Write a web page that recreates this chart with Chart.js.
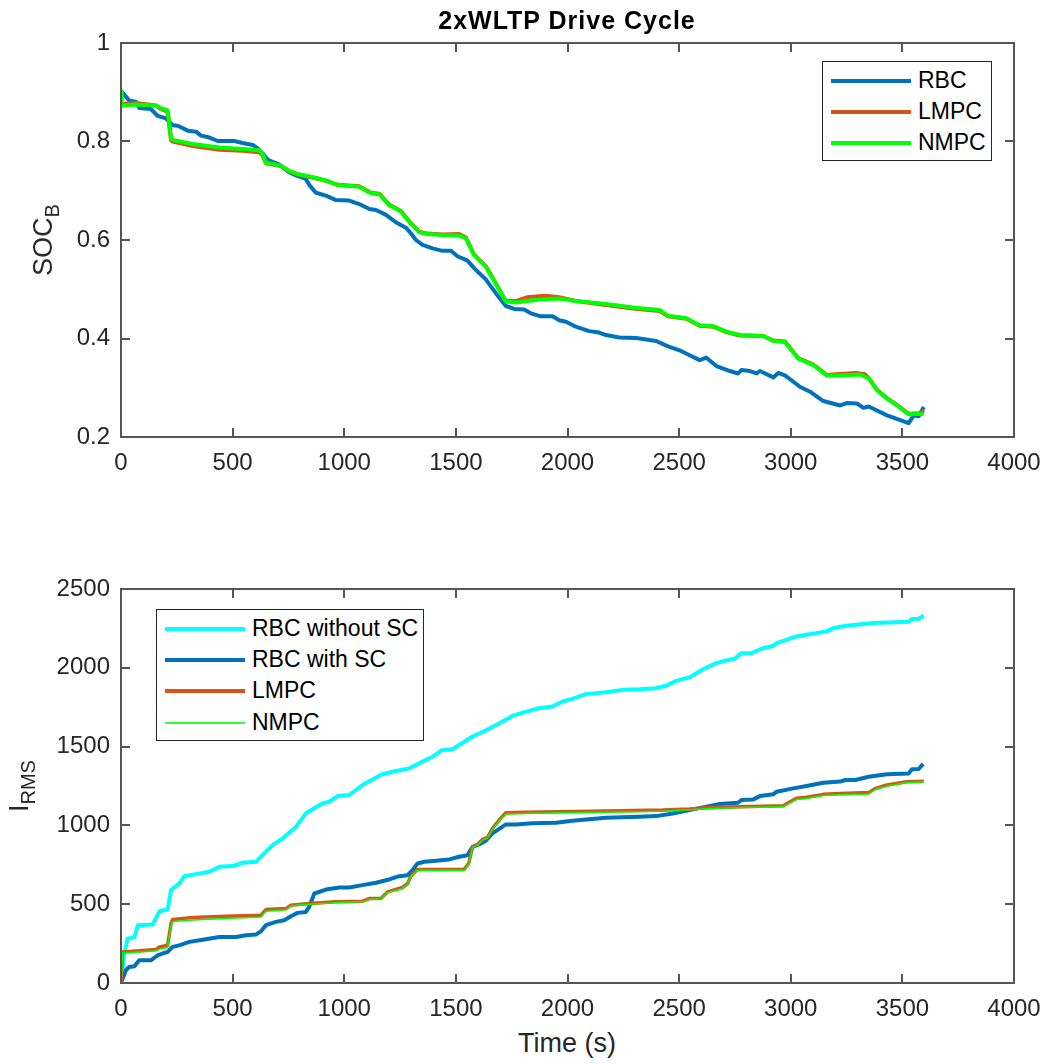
<!DOCTYPE html>
<html>
<head>
<meta charset="utf-8">
<title>2xWLTP Drive Cycle</title>
<script src="https://cdn.jsdelivr.net/npm/chart.js@4.4.1/dist/chart.umd.min.js"></script>
<style>
  body { margin: 0; background: #fff; font-family: "Liberation Sans", Arial, Helvetica, sans-serif; color: #262626; }
  #page { position: relative; width: 1047px; height: 1064px; overflow: hidden; background: #fff; }
  .box { position: absolute; left: 0; width: 1047px; height: 480px; }
  #title { position: absolute; left: 567px; top: 8px; transform: translateX(-50%); font-weight: bold; font-size: 25px; line-height: 24px; letter-spacing: 1px; white-space: nowrap; color: #000; }
  .ylabel { position: absolute; font-size: 27px; line-height: 30px; white-space: nowrap; transform: translate(-50%, -50%) rotate(-90deg); }
  .ylabel sub { font-size: 20px; line-height: 0; vertical-align: -7px; }
  #xlabel { position: absolute; left: 567px; top: 1028px; transform: translateX(-50%); font-size: 27px; line-height: 30px; white-space: nowrap; }
  .legend { position: absolute; border: 1px solid #262626; background: #fff; box-sizing: border-box; }
  .legend .row { position: absolute; left: 0; height: 31px; line-height: 31px; font-size: 23px; white-space: nowrap; color: #000; }
  .legend .mark { position: absolute; left: 8px; width: 80px; }
  .legend .txt { position: absolute; left: 95px; top: 0; }
</style>
</head>
<body>
<div id="page">
  <div class="box" style="top:0"><canvas id="socChart" width="1047" height="480"></canvas></div>
  <div class="box" style="top:540px"><canvas id="irmsChart" width="1047" height="480"></canvas></div>
  <div id="title">2xWLTP Drive Cycle</div>
  <div class="ylabel" style="left:43px; top:240px">SOC<sub>B</sub></div>
  <div class="ylabel" style="left:19px; top:786px">I<sub>RMS</sub></div>
  <div id="xlabel">Time (s)</div>
  <div class="legend" id="socLegend" style="left:822px; top:61px; width:170px; height:100px"></div>
  <div class="legend" id="irmsLegend" style="left:156px; top:609px; width:268px; height:132px"></div>
</div>

<script>
// Battery state of charge, [time s, SOC]
const rbcSoc = [[0,0.902],[10,0.898],[37,0.883],[67,0.881],[82,0.868],[134,0.866],[164,0.852],[201,0.847],[231,0.833],[254,0.832],[299,0.822],[336,0.820],[358,0.812],[396,0.808],[433,0.801],[507,0.801],[545,0.797],[590,0.793],[612,0.786],[634,0.776],[657,0.763],[709,0.753],[754,0.737],[784,0.731],[828,0.724],[843,0.712],[873,0.696],[918,0.690],[963,0.681],[1022,0.680],[1067,0.673],[1112,0.663],[1142,0.661],[1187,0.651],[1231,0.636],[1276,0.625],[1298,0.614],[1321,0.600],[1351,0.590],[1396,0.583],[1440,0.578],[1478,0.578],[1507,0.567],[1552,0.558],[1590,0.539],[1634,0.520],[1679,0.492],[1724,0.466],[1761,0.460],[1806,0.459],[1836,0.451],[1880,0.445],[1933,0.445],[1963,0.437],[1993,0.434],[2037,0.424],[2097,0.415],[2142,0.412],[2172,0.407],[2232,0.402],[2307,0.401],[2397,0.395],[2450,0.384],[2502,0.376],[2547,0.366],[2592,0.356],[2622,0.361],[2667,0.344],[2727,0.334],[2764,0.329],[2779,0.336],[2817,0.334],[2847,0.329],[2862,0.334],[2922,0.321],[2944,0.330],[2974,0.325],[3041,0.302],[3086,0.292],[3146,0.273],[3221,0.264],[3251,0.269],[3296,0.268],[3326,0.259],[3349,0.262],[3431,0.244],[3528,0.228],[3551,0.244],[3573,0.242],[3596,0.261]];

const lmpcSoc = [[0,0.876],[67,0.878],[157,0.873],[179,0.866],[209,0.860],[224,0.803],[231,0.800],[321,0.791],[440,0.783],[545,0.781],[619,0.778],[634,0.772],[649,0.756],[716,0.750],[754,0.739],[791,0.733],[866,0.726],[918,0.720],[970,0.712],[1067,0.709],[1119,0.696],[1157,0.694],[1201,0.672],[1254,0.659],[1291,0.638],[1336,0.617],[1373,0.613],[1440,0.611],[1515,0.612],[1545,0.605],[1582,0.570],[1634,0.547],[1724,0.476],[1769,0.476],[1820,0.484],[1900,0.487],[1963,0.484],[2037,0.476],[2172,0.468],[2292,0.461],[2412,0.456],[2450,0.445],[2532,0.440],[2592,0.426],[2652,0.424],[2712,0.413],[2772,0.406],[2877,0.405],[2922,0.396],[2974,0.394],[3034,0.360],[3101,0.347],[3161,0.326],[3221,0.328],[3290,0.330],[3330,0.328],[3349,0.320],[3386,0.296],[3431,0.279],[3476,0.265],[3528,0.247],[3580,0.248],[3596,0.254]];

const nmpcSoc = [[0,0.902],[3,0.873],[67,0.875],[157,0.873],[179,0.868],[209,0.863],[224,0.807],[231,0.803],[321,0.795],[440,0.788],[545,0.785],[619,0.782],[634,0.775],[649,0.757],[716,0.751],[754,0.740],[791,0.734],[866,0.727],[918,0.721],[970,0.712],[1067,0.708],[1119,0.695],[1157,0.693],[1201,0.671],[1254,0.658],[1291,0.637],[1336,0.616],[1373,0.612],[1440,0.610],[1515,0.609],[1545,0.603],[1582,0.569],[1634,0.546],[1724,0.475],[1769,0.473],[1873,0.479],[1963,0.481],[2037,0.476],[2172,0.470],[2292,0.463],[2412,0.458],[2450,0.446],[2532,0.441],[2592,0.427],[2652,0.425],[2712,0.414],[2772,0.407],[2877,0.405],[2922,0.395],[2974,0.393],[3034,0.359],[3101,0.346],[3161,0.325],[3221,0.325],[3311,0.327],[3349,0.319],[3386,0.295],[3431,0.278],[3476,0.264],[3528,0.246],[3596,0.247]];

// RMS battery current, [time s, I_RMS]
const rbcNoScIrms = [[0,0],[4,0],[15,186],[30,282],[60,288],[75,367],[142,371],[172,455],[209,466],[224,589],[261,631],[284,678],[336,691],[396,706],[440,737],[500,742],[545,763],[604,769],[634,811],[679,875],[724,917],[784,991],[828,1076],[858,1102],[903,1140],[933,1150],[970,1186],[1022,1193],[1082,1256],[1172,1326],[1231,1345],[1291,1362],[1351,1405],[1396,1436],[1440,1479],[1485,1483],[1575,1564],[1634,1602],[1709,1659],[1754,1695],[1799,1716],[1873,1744],[1933,1754],[1978,1786],[2022,1803],[2082,1833],[2172,1845],[2247,1860],[2322,1864],[2397,1871],[2442,1886],[2487,1917],[2547,1939],[2607,1991],[2667,2030],[2712,2047],[2749,2057],[2779,2093],[2824,2093],[2869,2121],[2922,2140],[2937,2157],[3026,2199],[3071,2210],[3161,2231],[3191,2252],[3251,2267],[3371,2284],[3528,2292],[3543,2309],[3573,2311],[3596,2330]];

const rbcScIrms = [[0,0],[22,81],[37,102],[60,106],[82,144],[134,144],[164,176],[194,191],[209,197],[231,229],[261,239],[306,261],[366,275],[440,292],[515,292],[560,303],[604,307],[627,328],[649,367],[694,388],[731,398],[761,424],[791,445],[828,451],[843,483],[866,568],[918,593],[978,606],[1022,606],[1082,621],[1142,636],[1201,657],[1246,678],[1284,684],[1306,716],[1328,758],[1358,769],[1410,775],[1470,784],[1515,801],[1552,811],[1575,864],[1604,879],[1634,903],[1664,949],[1724,1006],[1769,1006],[1843,1013],[1948,1017],[2022,1030],[2172,1049],[2322,1055],[2397,1059],[2472,1076],[2547,1097],[2622,1119],[2682,1136],[2764,1144],[2779,1161],[2832,1165],[2862,1186],[2922,1197],[2937,1214],[3011,1235],[3071,1250],[3146,1271],[3221,1278],[3244,1288],[3289,1288],[3349,1309],[3431,1324],[3528,1330],[3543,1356],[3573,1358],[3593,1390]];

const lmpcIrms = [[0,0],[7,197],[67,203],[157,212],[172,229],[209,239],[224,377],[231,403],[321,415],[470,424],[627,430],[649,466],[739,472],[761,494],[843,504],[963,515],[1082,519],[1112,536],[1164,536],[1194,578],[1261,606],[1284,631],[1298,678],[1328,720],[1440,720],[1537,720],[1557,758],[1575,864],[1597,879],[1619,911],[1642,924],[1664,981],[1694,1034],[1724,1080],[1813,1083],[1963,1087],[2172,1091],[2427,1097],[2547,1104],[2622,1112],[2772,1119],[2967,1125],[2989,1144],[3026,1172],[3071,1178],[3146,1197],[3221,1203],[3349,1208],[3379,1235],[3431,1256],[3521,1277],[3596,1280]];

const nmpcIrms = [[0,0],[7,190],[67,195],[157,205],[172,215],[209,225],[224,370],[231,390],[321,400],[470,410],[627,418],[649,455],[739,465],[761,490],[843,500],[963,510],[1082,515],[1112,530],[1164,535],[1194,575],[1261,600],[1284,625],[1298,675],[1328,715],[1440,715],[1537,716],[1557,750],[1575,860],[1597,875],[1619,905],[1642,920],[1664,975],[1694,1030],[1724,1072],[1813,1075],[1963,1080],[2172,1084],[2427,1090],[2547,1100],[2622,1106],[2772,1113],[2967,1118],[2989,1137],[3026,1165],[3071,1170],[3146,1190],[3221,1195],[3349,1200],[3379,1228],[3431,1250],[3521,1272],[3596,1276]];

// axis ranges
const timeTicks = { min: 0, max: 4000, step: 500 };
const socTicks = { min: 0.2, max: 1, step: 0.2 };
const irmsTicks = { min: 0, max: 2500, step: 500 };

const BLUE = '#0072BD', ORANGE = '#D95319', GREEN = '#00FF00', CYAN = '#00FFFF';
const AXIS = '#555555', TEXT = '#262626';
const FONT = '"Liberation Sans", Arial, Helvetica, sans-serif';

// box around the axes with inward tick marks on all four sides
const boxTicks = {
    id: 'boxTicks',
    afterDraw(chart) {
        const { ctx, chartArea: a, scales: { x, y } } = chart;
        const len = 9;
        ctx.save();
        ctx.strokeStyle = AXIS;
        ctx.lineWidth = 2;
        ctx.beginPath();
        ctx.rect(a.left, a.top, a.right - a.left, a.bottom - a.top);
        x.ticks.forEach(t => {
            const px = Math.round(x.getPixelForValue(t.value));
            ctx.moveTo(px, a.bottom); ctx.lineTo(px, a.bottom - len);
            ctx.moveTo(px, a.top); ctx.lineTo(px, a.top + len);
        });
        y.ticks.forEach(t => {
            const py = Math.round(y.getPixelForValue(t.value));
            ctx.moveTo(a.left, py); ctx.lineTo(a.left + len, py);
            ctx.moveTo(a.right, py); ctx.lineTo(a.right - len, py);
        });
        ctx.stroke();
        ctx.restore();
    }
};

// first series plotted lies at the back, like the original plot order
function serie(label, points, color, width, order) {
    return {
        label: label,
        data: points.map(p => ({ x: p[0], y: p[1] })),
        borderColor: color,
        backgroundColor: color,
        borderWidth: width,
        borderJoinStyle: 'round',
        pointRadius: 0,
        tension: 0,
        fill: false,
        order: order
    };
}

function criaGrafico(canvasId, datasets, yRange, yFmt, padTop, xHeight) {
    const tickFont = { family: FONT, size: 24 };
    return new Chart(document.getElementById(canvasId), {
        type: 'line',
        data: { datasets: datasets },
        options: {
            responsive: false,
            animation: false,
            events: [],
            layout: { padding: { top: padTop, right: 33, left: 0, bottom: 0 } },
            plugins: { legend: { display: false }, tooltip: { enabled: false } },
            scales: {
                x: {
                    type: 'linear',
                    min: timeTicks.min, max: timeTicks.max,
                    ticks: { stepSize: timeTicks.step, color: TEXT, font: tickFont, padding: 12, maxRotation: 0, autoSkip: false, callback: v => String(v) },
                    grid: { display: false, drawTicks: false },
                    border: { display: false },
                    afterFit(s) { s.height = xHeight; s.paddingLeft = 0; s.paddingRight = 0; }
                },
                y: {
                    type: 'linear',
                    min: yRange.min, max: yRange.max,
                    ticks: { stepSize: yRange.step, color: TEXT, font: tickFont, padding: 11, autoSkip: false, callback: yFmt },
                    grid: { display: false, drawTicks: false },
                    border: { display: false },
                    afterFit(s) { s.width = 121; s.paddingTop = 0; s.paddingBottom = 0; }
                }
            }
        },
        plugins: [boxTicks]
    });
}

function criaLegenda(id, items, rowTops) {
    const box = document.getElementById(id);
    items.forEach((it, i) => {
        const row = document.createElement('div');
        row.className = 'row';
        row.style.top = rowTops[i] + 'px';
        row.style.width = '100%';
        const mark = document.createElement('div');
        mark.className = 'mark';
        mark.style.height = it.width + 'px';
        mark.style.top = (15.5 - it.width / 2) + 'px';
        mark.style.background = it.color;
        const txt = document.createElement('div');
        txt.className = 'txt';
        txt.textContent = it.label;
        row.appendChild(mark);
        row.appendChild(txt);
        box.appendChild(row);
    });
}

criaGrafico('socChart', [
    serie('RBC', rbcSoc, BLUE, 4, 3),
    serie('LMPC', lmpcSoc, ORANGE, 4, 2),
    serie('NMPC', nmpcSoc, GREEN, 4, 1)
], socTicks, v => String(+v.toFixed(2)), 43, 43);

criaGrafico('irmsChart', [
    serie('RBC without SC', rbcNoScIrms, CYAN, 4, 4),
    serie('RBC with SC', rbcScIrms, BLUE, 4, 3),
    serie('LMPC', lmpcIrms, ORANGE, 3.5, 2),
    serie('NMPC', nmpcIrms, GREEN, 1.5, 1)
], irmsTicks, v => String(v), 49, 37);

criaLegenda('socLegend', [
    { label: 'RBC', color: BLUE, width: 4 },
    { label: 'LMPC', color: ORANGE, width: 4 },
    { label: 'NMPC', color: GREEN, width: 4 }
], [3, 34, 65]);

criaLegenda('irmsLegend', [
    { label: 'RBC without SC', color: CYAN, width: 4 },
    { label: 'RBC with SC', color: BLUE, width: 4 },
    { label: 'LMPC', color: ORANGE, width: 4 },
    { label: 'NMPC', color: '#33FF33', width: 2 }
], [3, 34, 65, 97]);
</script>
</body>
</html>
